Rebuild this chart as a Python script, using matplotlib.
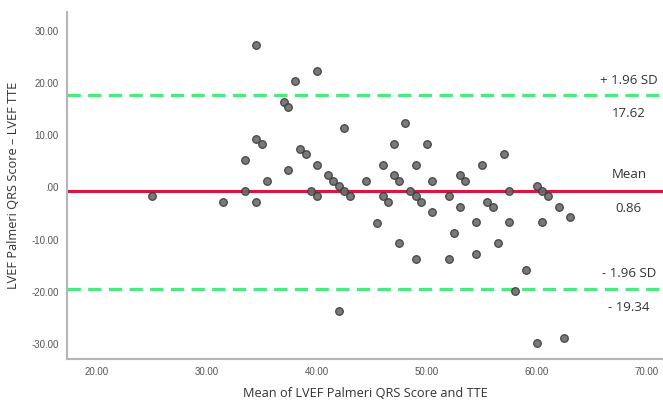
import matplotlib
matplotlib.use("Agg")
import matplotlib.pyplot as plt

mean_vals = [25.0, 31.5, 33.5, 33.5, 34.5, 34.5, 34.5, 35.0, 35.5, 37.0, 37.4, 37.4,
             38.0, 38.5, 39.0, 39.5, 40.0, 40.0, 40.0, 41.0, 41.5, 42.0, 42.0, 42.5,
             42.5, 43.0, 44.5, 45.5, 46.0, 46.0, 46.5, 47.0, 47.0, 47.5, 47.5, 48.0,
             48.5, 49.0, 49.0, 49.0, 49.5, 50.0, 50.5, 50.5, 52.0, 52.0, 52.5, 53.0,
             53.0, 53.5, 54.5, 54.5, 55.0, 55.5, 56.0, 56.5, 57.0, 57.5, 57.5, 58.0,
             59.0, 60.0, 60.0, 60.5, 60.5, 61.0, 62.0, 62.5, 63.0]
diff_vals = [-1.7, -2.7, 5.2, -0.6, 27.3, 9.3, -2.7, 8.3, 1.3, 16.3, 15.3, 3.3,
             20.3, 7.3, 6.3, -0.7, 22.3, 4.3, -1.7, 2.3, 1.3, 0.25, -23.7, 11.3,
             -0.7, -1.7, 1.3, -6.8, 4.3, -1.7, -2.7, 8.3, 2.3, 1.3, -10.7, 12.3,
             -0.7, 4.3, -1.7, -13.7, -2.7, 8.3, 1.3, -4.7, -1.7, -13.7, -8.7, 2.3,
             -3.7, 1.3, -6.7, -12.7, 4.3, -2.75, -3.7, -10.7, 6.3, -0.65, -6.7, -19.8,
             -15.7, 0.25, -29.7, -0.65, -6.7, -1.7, -3.7, -28.7, -5.7]

mean_line = -0.7
upper_loa = 17.62
lower_loa = -19.34

x_ticks = [20, 30, 40, 50, 60, 70]
y_ticks = [-30, -20, -10, 0, 10, 20, 30]

def fmt(v):
    s = f"{v:.2f}"
    if s.startswith("0."):
        s = s[1:]
    return s

fig = plt.figure(figsize=(6.63, 4.01), dpi=100)
ax = fig.add_axes([67/663, 1 - 359/401, 1 - 67/663, (359 - 11.7)/401])
ax.set_xlim(17.26, 71.5)
ax.set_ylim(-32.8, 33.6)

ax.axhline(upper_loa, color="#4ce881", lw=2.4, dashes=(4, 2.2), zorder=2)
ax.axhline(lower_loa, color="#4ce881", lw=2.4, dashes=(4, 2.2), zorder=2)
ax.axhline(mean_line, color="#dc1440", lw=2.2, zorder=2)

ax.scatter(mean_vals, diff_vals, s=30, facecolor="#6a6a6a", edgecolor="#3a3a3a",
           linewidths=0.9, alpha=0.9, zorder=3)

ax.set_xticks(x_ticks)
ax.set_xticklabels([fmt(v) for v in x_ticks])
ax.set_yticks(y_ticks)
ax.set_yticklabels([fmt(v) for v in y_ticks])
ax.tick_params(length=0, labelsize=7, labelcolor="#555555", pad=6)
for lab in ax.get_xticklabels() + ax.get_yticklabels():
    lab.set_family("Liberation Sans")

for s in ["top", "right"]:
    ax.spines[s].set_visible(False)
for s in ["left", "bottom"]:
    ax.spines[s].set_color("#b5b5b5")
    ax.spines[s].set_linewidth(1.5)

lab_font = dict(family="Open Sans", fontsize=9.2, color="#333333")
ax.set_xlabel("Mean of LVEF Palmeri QRS Score and TTE", labelpad=7, **lab_font)
ax.set_ylabel("LVEF Palmeri QRS Score \u2013 LVEF TTE", labelpad=8, **lab_font)

ann_font = dict(family="Open Sans", fontsize=9.5, color="#333333", ha="center", va="center")
ax.text(68.4, 20.5, "+ 1.96 SD", **ann_font)
ax.text(68.4, 14.2, "17.62", **ann_font)
ax.text(68.4, 2.5, "Mean", **ann_font)
ax.text(68.4, -4.1, "0.86", **ann_font)
ax.text(68.4, -16.4, "- 1.96 SD", **ann_font)
ax.text(68.4, -22.9, "- 19.34", **ann_font)

fig.savefig("out.png", dpi=100)
